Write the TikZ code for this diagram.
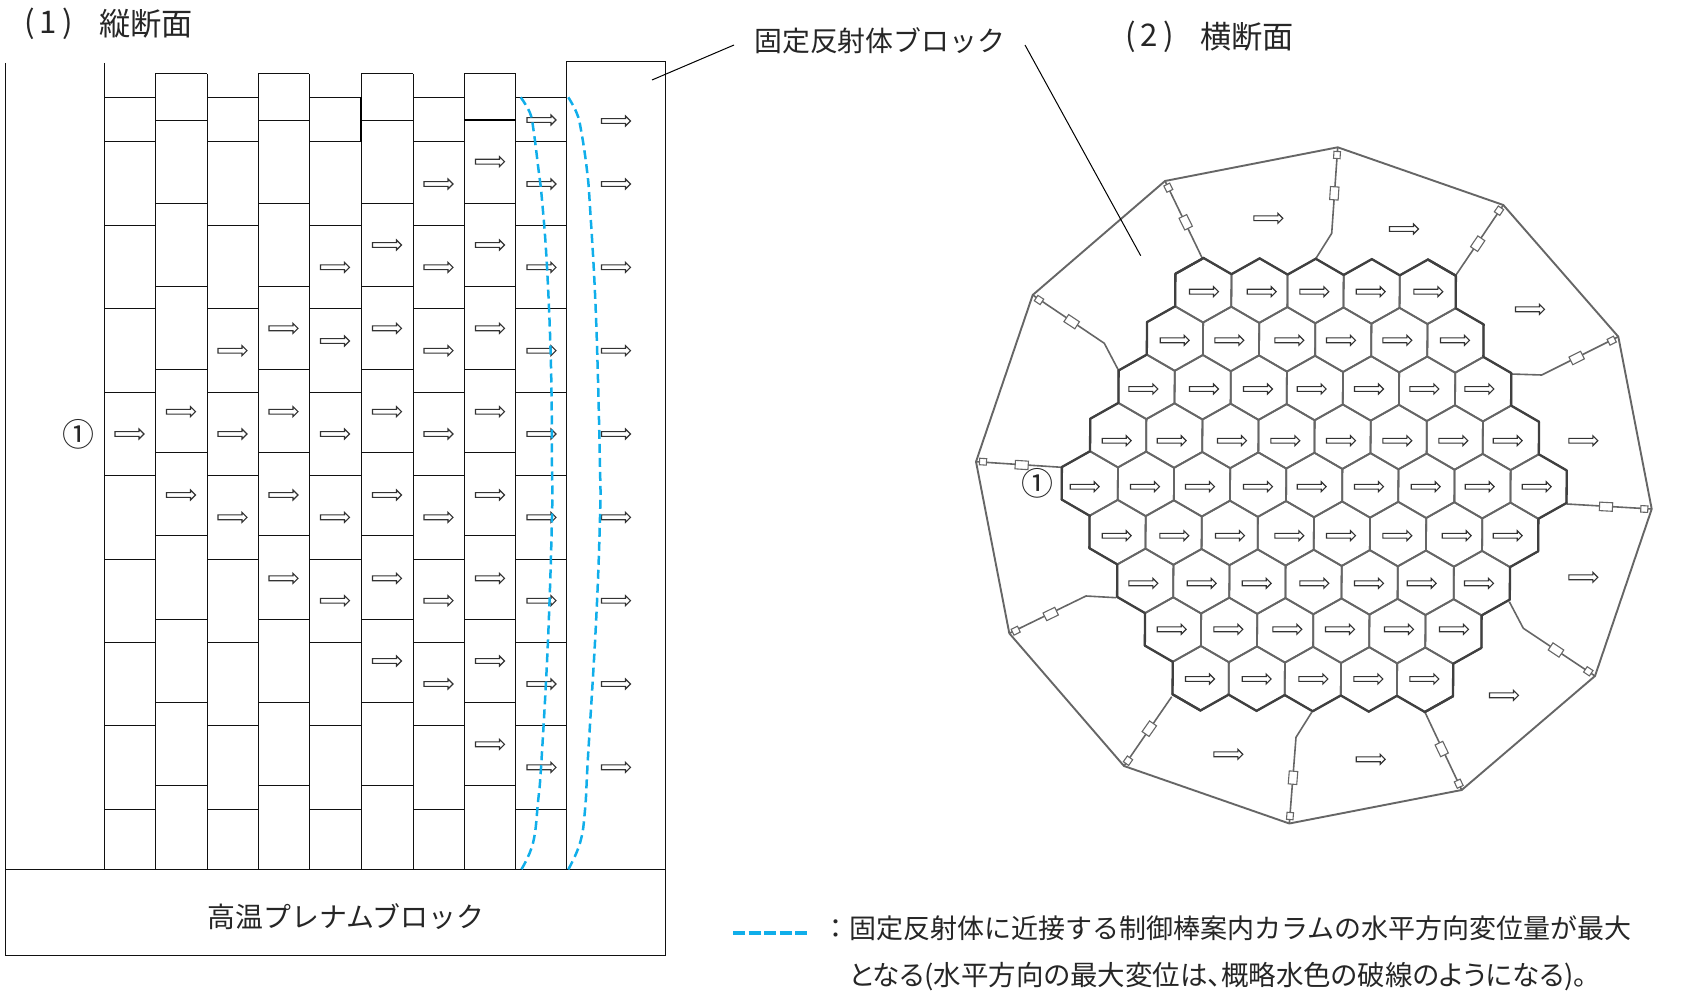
\documentclass[tikz,border=0pt]{standalone}
\usepackage{fontspec}
\newfontfamily\jp{Noto Sans CJK JP}
\newfontfamily\jpp[RawFeature=+palt]{Noto Sans CJK JP}
\definecolor{blockline}{HTML}{111111}
\definecolor{hexline}{HTML}{666666}
\definecolor{hexouter}{HTML}{404040}
\definecolor{shellline}{HTML}{666666}
\definecolor{skyblue}{HTML}{10AEEA}
\tikzset{
  lbl/.style={font=\jp\fontsize{27.9}{30}\selectfont,inner sep=0pt,text=black!85,anchor=west},
  lbltitle/.style={font=\jp\fontsize{31.2}{33}\selectfont,inner sep=0pt,text=black!85,anchor=west},
  lblleg/.style={font=\jp\fontsize{27}{30}\selectfont,inner sep=0pt,text=black!85,anchor=west},
  lblp/.style={font=\jpp\fontsize{27.5}{30}\selectfont,inner sep=0pt,text=black!85,anchor=west},
  lblc/.style={font=\jp\fontsize{32}{33}\selectfont,inner sep=0pt,text=black!85,anchor=center},
  blockedge/.style={draw=blockline,line width=1pt},
  leader/.style={draw=black,line width=1pt},
  hexedge/.style={draw=hexline,line width=1.8pt,line join=round},
  hexrim/.style={draw=hexouter,line width=2.3pt,line cap=round},
  shell/.style={draw=shellline,line width=1.9pt,line join=round},
  spoke/.style={draw=shellline,line width=1.6pt,line join=round},
  bigtab/.style={draw=shellline,fill=white,line width=1.1pt,minimum width=13pt,minimum height=8.5pt,inner sep=0pt},
  smalltab/.style={draw=shellline,fill=white,line width=1.1pt,minimum width=7pt,minimum height=6.5pt,inner sep=0pt},
  curve/.style={draw=skyblue,line width=2.5pt,dash pattern=on 9pt off 5pt},
  fatarrow/.pic={
    \draw[fill=white,draw=black!80,line width=1.1pt,line join=miter]
      (-14.5,-2.4) -- (9.5,-2.4) -- (9.5,-5) -- (14.5,0) -- (9.5,5) -- (9.5,2.4) -- (-14.5,2.4) -- cycle;
  }
}
\begin{document}
\begin{tikzpicture}[x=1pt,y=-1pt]
\useasboundingbox (0,0) rectangle (1697,992);
% ---------- longitudinal section
\draw[blockedge] (5.6,63) -- (5.6,869.3);
\draw[blockedge] (104,63) -- (104,869.3);
\foreach \x in {155,207,258,309,361,413,464,515.5} \draw[blockedge] (\x,74) -- (\x,869.3);
\draw[blockedge] (566.5,869.3) -- (566.5,61.7) -- (665,61.7) -- (665,869.3);
\draw[blockedge] (5.6,869.3) rectangle (665,955);
\foreach \a/\b in {104/155,207/258,309/361,413/464,515.5/566.5}
  \foreach \y in {97.3,142,225.7,309,392.3,475.7,559,642.3,725.7,809}
    \draw[blockedge] (\a,\y) -- (\b,\y);
\foreach \a/\b in {155/207,258/309,361/413,464/515.5}{
  \draw[blockedge] (\a,74) -- (\b,74);
  \foreach \y in {120.3,203.7,287,369.3,452.7,535.7,619,702.3,785.7}
    \draw[blockedge] (\a,\y) -- (\b,\y);
}
\draw[black,line width=1.8pt] (361,97.3) -- (361,142);
\draw[black,line width=2.2pt] (464,119.8) -- (515.5,119.8);
% arrows, column by column
\foreach \x/\ys in {129.5/{434},
  181/{411.7,495},
  232.5/{350.7,434,517.3},
  283.5/{328.3,411.7,495,578.3},
  335/{267.3,341,434,517.3,600.7},
  387/{245,328.3,411.7,495,578.3,661},
  438.5/{184,267.3,350.7,434,517.3,600.7,684},
  490/{161.7,245,328.3,411.7,495,578.3,661,744.3},
  541.5/{120,184,267.3,350.7,434,517.3,600.7,684,767.3},
  616/{121,184,267.3,350.7,434,517.3,600.7,684,767.3}}
  \foreach \y in \ys \pic at (\x,\y) {fatarrow};
\draw[curve] plot[smooth,tension=0.7] coordinates {(520.7,97.3) (530,113) (533.5,130) (538.3,168) (542,200) (547,267) (551,367) (552,467) (552,517) (548,640) (541.5,760) (538,802) (533,843) (521,870)};
\draw[curve] plot[smooth,tension=0.7] coordinates {(568.3,97.3) (576.7,113) (581,130) (586.7,168) (590,207) (596,317) (600,467) (600,517) (596,623) (588,757) (585,810) (580,843) (568,870)};
% ---------- shell of the cross section
\coordinate (o1) at (976,461.7);
\coordinate (o2) at (1032.7,295);
\coordinate (o3) at (1165,181);
\coordinate (o4) at (1337.7,147.3);
\coordinate (o5) at (1503.3,205);
\coordinate (o6) at (1618.3,336.7);
\coordinate (o7) at (1651.7,509);
\coordinate (o8) at (1595,676);
\coordinate (o9) at (1461.7,790);
\coordinate (o10) at (1289.3,823.5);
\coordinate (o11) at (1124,766);
\coordinate (o12) at (1009.3,633.3);
\draw[shell] (o1) -- (o2) -- (o3) -- (o4) -- (o5) -- (o6) -- (o7) -- (o8) -- (o9) -- (o10) -- (o11) -- (o12) -- cycle;
% spokes
\draw[spoke] (1061.7,467.3) -- (o1);
\draw[spoke] (1118.3,370) -- (1104.3,343.3) -- (o2);
\draw[spoke] (1202.3,258.3) -- (o3);
\draw[spoke] (1316,258.3) -- (1331.7,233.3) -- (o4);
\draw[spoke] (1456,275) -- (o5);
\draw[spoke] (1510.7,374) -- (1541.7,375) -- (o6);
\draw[spoke] (1566.7,504) -- (o7);
\draw[spoke] (1509.3,601.7) -- (1523.3,628.3) -- (o8);
\draw[spoke] (1425,712.3) -- (o9);
\draw[spoke] (1311.7,712.3) -- (1296,737.3) -- (o10);
\draw[spoke] (1171.7,696.7) -- (o11);
\draw[spoke] (1116,597.7) -- (1086,596) -- (o12);
\foreach \n/\bx/\by/\sx/\sy/\r in {
  a/1021.7/465/983/461.7/-3.6,
  b/1071.7/321.7/1039/300/-33.5,
  c/1185.7/222.3/1168.3/187.7/-64,
  d/1334.3/193.3/1337/155/-93.7,
  e/1477.7/243.7/1499/210.7/56,
  f/1576.7/358/1611.7/340.7/26.6,
  g/1606/506.7/1644.3/509/-3,
  h/1556/650/1588.3/671.3/-33.7,
  i/1441.7/749/1458.7/783.7/-64.6,
  j/1293/777.7/1290/816/-94.6,
  k/1149.3/728.7/1128/760.7/55,
  l/1050.7/614/1015.7/630.7/25.7}{
  \node[bigtab,rotate=\r] (big\n) at (\bx,\by) {};
  \node[smalltab,rotate=\r] (small\n) at (\sx,\sy) {};
}
% ---------- hexagonal core
\begin{scope}[shift={(1314.2,485)},rotate=-0.39]
\foreach \k/\n in {-4/5,-3/6,-2/7,-1/8,0/9,1/8,2/7,3/6,4/5}{
  \foreach \i in {1,...,\n}{
    \pgfmathsetmacro\u{(\i-(\n+1)/2)*56.1}
    \pgfmathsetmacro\v{\k*48.5}
    \pgfmathsetmacro\xl{\u-28.05}
    \pgfmathsetmacro\xr{\u+28.05}
    \pgfmathsetmacro\yt{\v-32.25}
    \pgfmathsetmacro\yu{\v-16.25}
    \pgfmathsetmacro\yd{\v+16.25}
    \pgfmathsetmacro\yb{\v+32.25}
    \draw[hexedge] (\xl,\yu) -- (\u,\yt) -- (\xr,\yu) -- (\xr,\yd) -- (\u,\yb) -- (\xl,\yd) -- cycle;
    \ifnum\i=1
      \draw[hexrim] (\xl,\yu) -- (\xl,\yd);
      \ifnum\k<1 \draw[hexrim] (\xl,\yu) -- (\u,\yt); \fi
      \ifnum\k>-1 \draw[hexrim] (\xl,\yd) -- (\u,\yb); \fi
    \fi
    \ifnum\i=\n
      \draw[hexrim] (\xr,\yu) -- (\xr,\yd);
      \ifnum\k<1 \draw[hexrim] (\xr,\yu) -- (\u,\yt); \fi
      \ifnum\k>-1 \draw[hexrim] (\xr,\yd) -- (\u,\yb); \fi
    \fi
    \ifnum\k=-4 \draw[hexrim] (\xl,\yu) -- (\u,\yt) -- (\xr,\yu); \fi
    \ifnum\k=4 \draw[hexrim] (\xl,\yd) -- (\u,\yb) -- (\xr,\yd); \fi
  }
}
\end{scope}
% arrows in the hexagons, row by row
\foreach \y/\xs in {291.7/{1204,1261.7,1314.3,1370.7,1428.3},
  340.3/{1174.7,1229.3,1289.3,1341,1397.3,1455},
  389/{1143.3,1204,1258,1311.7,1369,1424.3,1479.3},
  440.7/{1116.7,1171.7,1232,1285.3,1341,1397.3,1453.3,1507.7},
  486.7/{1084.7,1145,1200,1258,1311.7,1369,1425.7,1479.7,1536.7},
  535.7/{1116.7,1174.3,1230,1289.3,1341,1397.3,1456.7,1507.7},
  583.3/{1143.3,1201.7,1256.7,1314.3,1369,1421.7,1479},
  629.3/{1171.7,1228.3,1287.3,1340,1399,1454},
  679/{1200,1256.7,1313.3,1368.3,1424.3}}
  \foreach \x in \xs \pic at (\x,\y) {fatarrow};
% arrows in the reflector blocks
\foreach \x/\y in {1268.3/218.3,1404/229,1530/309.3,1583.3/440.7,1583.3/577.3,1504/695.3,1370.7/759.3,1228.3/754.3}
  \pic at (\x,\y) {fatarrow};
% ---------- leaders and texts
\coordinate (lead1a) at (652,80);
\coordinate (lead1b) at (734,45);
\coordinate (lead2a) at (1025,45);
\coordinate (lead2b) at (1140.7,255.7);
\draw[leader] (lead1a) -- (lead1b);
\draw[leader] (lead2a) -- (lead2b);
\node[lbltitle] (t1a) at (24,24) {(\,1\,)};
\node[lbltitle] (t1b) at (99,24) {縦断面};
\node[lbltitle] (t2a) at (1125,37) {(\,2\,)};
\node[lbltitle] (t2b) at (1200,37) {横断面};
\node[lbl] (fix) at (754,41) {固定反射体ブロック};
\node[lbl] (plenum) at (207.5,917) {高温プレナムブロック};
\node[lblc] (c1) at (78,434) {①};
\node[lblc] (c2) at (1037,483) {①};
\coordinate (lega) at (733,933);
\coordinate (legb) at (808,933);
\draw[skyblue,line width=3.6pt,dash pattern=on 12pt off 3.5pt] (lega) -- (legb);
\node[lblleg] (leg1) at (822.5,928) {：固定反射体に近接する制御棒案内カラムの水平方向変位量が最大};
\node[lblp] (leg2) at (849,977) {となる(水平方向の最大変位は、概略水色の破線のようになる)。};
\end{tikzpicture}
\end{document}
